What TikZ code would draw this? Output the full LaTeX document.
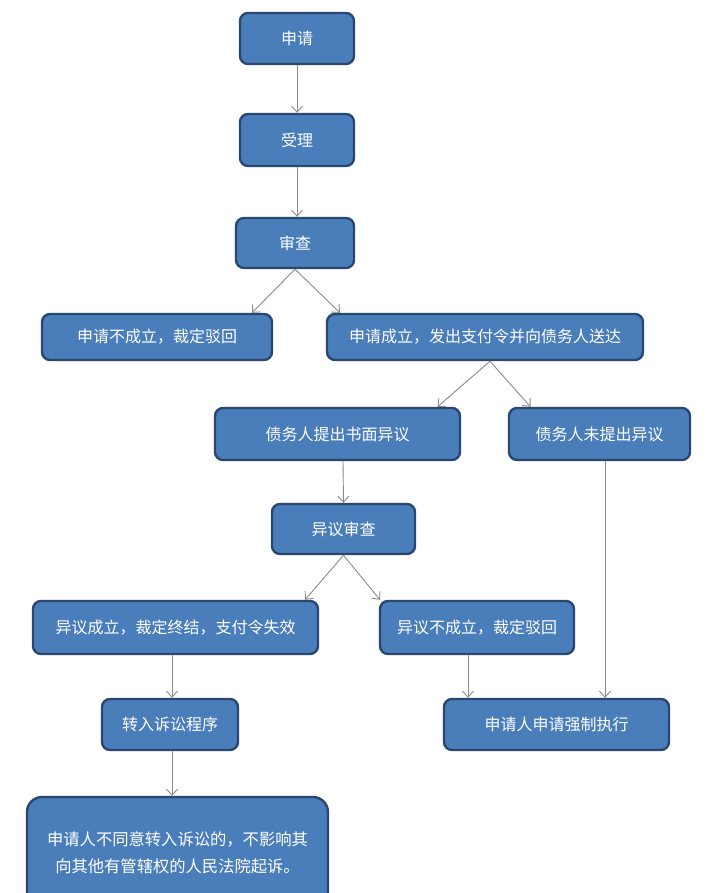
\documentclass[tikz,border=0pt]{standalone}
\usepackage{fontspec}
\setmainfont{Noto Sans CJK SC}
\usetikzlibrary{arrows.meta}
\definecolor{boxfill}{HTML}{4A7EBB}
\definecolor{boxline}{HTML}{2B4770}
\definecolor{arrgray}{HTML}{8A8A8A}
\tikzset{
  box/.style={draw=boxline, line width=2.4pt, fill=boxfill, rounded corners=8pt,
    text=white, font=\fontsize{16}{20}\selectfont, inner sep=0pt, align=center},
  arr/.style={draw=arrgray, line width=0.9pt, -{Straight Barb[length=6pt,width=11pt]}}
}
\begin{document}
\begin{tikzpicture}[x=1pt,y=-1pt]
\useasboundingbox[fill=white] (0,0) rectangle (714,893);
\node[box, minimum width=114pt, minimum height=51pt] (n1) at (297,38.5) {申请};
\node[box, minimum width=114pt, minimum height=52pt] (n2) at (297,140) {受理};
\node[box, minimum width=118pt, minimum height=50pt] (n3) at (295,243) {审查};
\node[box, minimum width=230pt, minimum height=46pt] (n4) at (157,337) {申请不成立，裁定驳回};
\node[box, minimum width=316pt, minimum height=46pt] (n5) at (485,337) {申请成立，发出支付令并向债务人送达};
\node[box, minimum width=245pt, minimum height=52pt] (n6) at (337.5,434) {债务人提出书面异议};
\node[box, minimum width=181pt, minimum height=52pt] (n7) at (599.5,434) {债务人未提出异议};
\node[box, minimum width=143pt, minimum height=50pt] (n8) at (343.5,529) {异议审查};
\node[box, minimum width=285pt, minimum height=53pt] (n9) at (175.5,627.5) {异议成立，裁定终结，支付令失效};
\node[box, minimum width=194pt, minimum height=53pt] (n10) at (477,627.5) {异议不成立，裁定驳回};
\node[box, minimum width=136pt, minimum height=51pt] (n11) at (170,724.5) {转入诉讼程序};
\node[box, minimum width=225pt, minimum height=51pt] (n12) at (556.5,724.5) {申请人申请强制执行};
\node[box, rounded corners=15pt, minimum width=301pt, minimum height=112pt,
  font=\fontsize{16.3}{27}\selectfont] (n13) at (177.5,853)
  {申请人不同意转入诉讼的，不影响其\\向其他有管辖权的人民法院起诉。};
\draw[arr] (n1) -- (n2);
\draw[arr] (n2.south) -- (n2.south |- n3.north);
\draw[arr] (n3.south) -- ([xshift=95pt]n4.north);
\draw[arr] (n3.south) -- ([xshift=-145pt]n5.north);
\draw[arr] ([xshift=5pt]n5.south) -- ([xshift=100pt]n6.north);
\draw[arr] ([xshift=5pt]n5.south) -- ([xshift=-69pt]n7.north);
\draw[arr] ([xshift=5.5pt]n6.south) -- (n8.north);
\draw[arr] ([xshift=5.5pt]n7.south) -- ([xshift=48.5pt]n12.north);
\draw[arr] (n8.south) -- ([xshift=129.5pt]n9.north);
\draw[arr] (n8.south) -- ([xshift=-97pt]n10.north);
\draw[arr] ([xshift=-3.5pt]n9.south) -- ([xshift=2pt]n11.north);
\draw[arr] ([xshift=-9pt]n10.south) -- ([xshift=-88.5pt]n12.north);
\draw[arr] ([xshift=2pt]n11.south) -- ([xshift=-5.5pt]n13.north);
\end{tikzpicture}
\end{document}
